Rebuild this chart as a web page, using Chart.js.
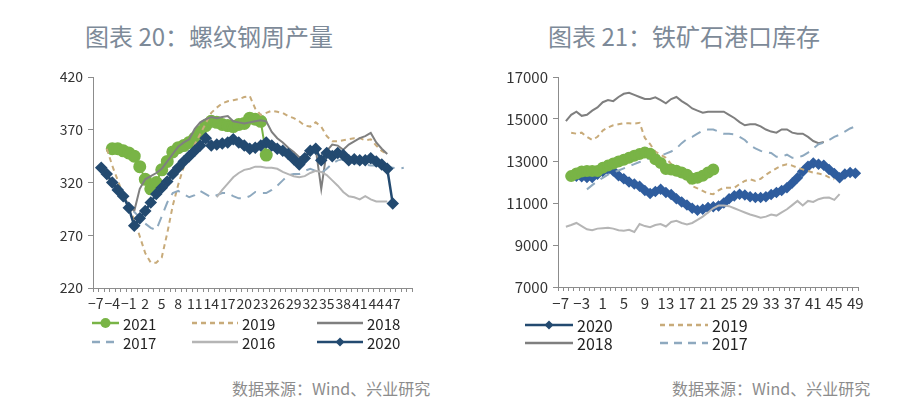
<!DOCTYPE html>
<html>
<head>
<meta charset="utf-8">
<script src="https://cdn.jsdelivr.net/npm/chart.js@4.4.1/dist/chart.umd.min.js"></script>
<style>
  body { margin: 0; width: 900px; height: 414px; background: #fff; position: relative; overflow: hidden;
         font-family: "Noto Sans CJK SC", sans-serif; }
  .title { position: absolute; top: 24px; font-size: 24px; line-height: 1; color: #7d8a98; white-space: nowrap; }
  .src { position: absolute; top: 380px; font-size: 16px; line-height: 1; color: #8c8c8c; white-space: nowrap; }
  canvas { position: absolute; }
  .item { position: absolute; display: flex; align-items: center; height: 18px; color: #222; white-space: nowrap; }
  .item svg { margin-right: 4px; }
</style>
</head>
<body>
<div class="title" style="left:85px">图表 20：螺纹钢周产量</div>
<div class="title" style="left:548px">图表 21：铁矿石港口库存</div>
<canvas id="rebar" width="385" height="260" style="left:40px;top:62px"></canvas>
<canvas id="ore" width="390" height="260" style="left:480px;top:62px"></canvas>
<div id="legendRebar"></div>
<div id="legendOre"></div>
<div class="src" style="left:232px">数据来源：Wind、兴业研究</div>
<div class="src" style="left:672px">数据来源：Wind、兴业研究</div>

<script>
// 图表 20 螺纹钢周产量 (万吨), week offset from Spring Festival
const weeksRebar = [-7,-6,-5,-4,-3,-2,-1,0,1,2,3,4,5,6,7,8,9,10,11,12,13,14,15,16,17,18,19,20,21,22,23,24,25,26,27,28,29,30,31,32,33,34,35,36,37,38,39,40,41,42,43,44,45,46,47,48,49,50];
const rebar2021 = [null,null,null,352,352,350,348,345,335,323,314,320,332,340,349,353,355,358,362,368,374,378,377,375,374,373,375,376,381,380,378,346,null,null,null,null,null,null,null,null,null,null,null,null,null,null,null,null,null,null,null,null,null,null,null,null,null,null];
const rebar2019 = [null,null,352,336,322,308,296,285,269,253,244,244,249,272,298,318,335,346,356,366,376,386,391,395,397,398,399,401,402,390,384,386,388,387,386,383,381,378,374,373,377,373,364,359,359,360,361,362,362,360,361,355,350,347,null,null,null,null];
const rebar2018 = [null,332,326,320,314,308,298,293,314,323,326,329,333,340,347,354,358,361,371,377,380,382,381,382,383,378,377,376,377,378,379,378,368,362,358,353,349,344,345,350,352,314,350,356,355,351,356,359,362,364,367,358,352,347,null,null,null,null];
const rebar2017 = [null,330,324,317,311,305,298,292,287,281,277,275,288,301,310,312,309,306,308,312,309,306,308,310,310,307,305,305,307,311,310,310,313,317,322,327,328,328,331,333,331,329,333,338,341,342,340,338,338,337,336,336,335,335,334,333,334,null];
const rebar2016 = [null,null,null,null,null,null,null,null,null,null,null,null,null,null,null,null,null,null,null,null,null,null,306,313,319,325,329,332,333,335,335,334,334,333,330,328,326,325,326,329,331,330,327,322,317,311,307,306,304,307,304,302,302,302,null,null,null,null];
const rebar2020 = [null,334,328,320,313,307,296,279,286,293,301,309,315,321,328,334,340,345,350,355,362,355,356,357,358,361,358,355,352,353,355,358,355,352,350,347,342,337,343,350,352,341,348,345,348,346,341,342,341,341,343,340,337,333,300,null,null,null];
const rebarTicks = [220, 270, 320, 370, 420];

// 图表 21 铁矿石港口库存 (万吨)
const weeksOre = [-7,-6,-5,-4,-3,-2,-1,0,1,2,3,4,5,6,7,8,9,10,11,12,13,14,15,16,17,18,19,20,21,22,23,24,25,26,27,28,29,30,31,32,33,34,35,36,37,38,39,40,41,42,43,44,45,46,47,48,49];
const ore2020 = [null,null,null,12280,12250,12210,12210,12370,12500,12600,12520,12300,12150,12000,11900,11800,11600,11450,11550,11650,11500,11400,11200,11050,10900,10750,10650,10700,10780,10820,10860,11000,11200,11340,11420,11380,11300,11260,11260,11300,11400,11500,11600,11730,11950,12200,12500,12750,12900,12850,12800,12600,12400,12200,12380,12450,12420];
const ore2019 = [null,null,14350,14300,14350,14150,14000,14150,14450,14600,14700,14750,14800,14800,14780,14820,14100,13800,13450,13300,13150,12850,12550,12300,12100,11800,11700,11580,11450,11420,11600,11730,11730,11730,11900,12050,12130,12050,12150,12350,12500,12650,12780,12840,12780,12680,12600,12520,12450,12400,12350,12220,12130,null,null,null,null];
const ore2018 = [null,14900,15200,15350,15150,15200,15400,15550,15800,15900,15850,16050,16200,16250,16150,16050,15950,15950,16030,15900,15750,15950,16050,15850,15700,15500,15400,15300,15350,15350,15350,15350,15200,15050,14850,14700,14750,14750,14650,14500,14400,14350,14500,14500,14350,14300,14300,14150,13950,13850,13900,null,null,null,null,null,null];
const ore2017 = [null,null,null,null,null,11650,11850,12050,12200,12350,12450,12550,12650,12750,12850,12950,13050,13150,13250,13250,13350,13450,13600,13850,14050,14150,14300,14450,14500,14500,14400,14300,14300,14270,14150,14000,13750,13600,13480,13420,13380,13200,13200,13300,13150,13160,13250,13400,13600,13800,13870,14000,14150,14250,14400,14550,14650];
const ore2021 = [null,null,12280,12400,12500,12520,12520,12520,12680,12780,12880,12980,13060,13150,13250,13330,13400,13350,13080,12900,12620,12600,12540,12450,12350,12150,12200,12300,12450,12600,null,null,null,null,null,null,null,null,null,null,null,null,null,null,null,null,null,null,null,null,null,null,null,null,null,null,null];
const ore2016 = [null,9870,9950,10050,9900,9750,9700,9780,9800,9820,9780,9700,9680,9720,9620,10000,9900,9850,9950,10000,9880,10100,10150,10050,9980,10050,10200,10350,10550,10750,10880,10880,10850,10750,10650,10550,10450,10380,10300,10350,10450,10400,10550,10700,10900,11100,10880,11100,11050,11180,11250,11260,11150,11420,null,null,null];
const oreTicks = [7000, 9000, 11000, 13000, 15000, 17000];

const GREEN = "#79b446", TAN = "#c8ab7a", GRAY = "#7f7f7f", BLUEGRAY = "#8ea9bf", LIGHT = "#b5b5b5";
const NAVY = "#234a70", BLUE = "#2f5d9e";

Chart.defaults.font.family = "'Noto Sans CJK SC', sans-serif";
Chart.defaults.color = "#333";

const minus = (v) => String(v).replace("-", "\u2212");

function line(label, data, color, opts) {
  return Object.assign({
    label, data, borderColor: color, backgroundColor: color,
    borderWidth: 2, pointRadius: 0, tension: 0, spanGaps: false,
  }, opts || {});
}

function axes(labels, every, lastShown, yMin, yMax, yStep, yWidth, xHeight, fontSize) {
  return {
    x: {
      type: "category", offset: true,
      grid: { display: true, offset: true, drawOnChartArea: false, drawTicks: true, tickLength: 4, color: "#8c8c8c" },
      border: { color: "#8c8c8c" },
      ticks: {
        autoSkip: false, maxRotation: 0, padding: 3, font: { size: fontSize }, color: "#333",
        callback: (v, i) => (i % every === 0 && labels[i] <= lastShown) ? minus(labels[i]) : "",
      },
      afterFit: (s) => { s.height = xHeight; },
    },
    y: {
      min: yMin, max: yMax,
      grid: { display: true, drawOnChartArea: false, drawTicks: true, tickLength: 5, color: "#8c8c8c" },
      border: { color: "#8c8c8c" },
      ticks: { stepSize: yStep, padding: 5, font: { size: fontSize }, color: "#333", callback: (v) => String(v) },
      afterFit: (s) => { s.width = yWidth; },
    },
  };
}

new Chart(document.getElementById("rebar"), {
  type: "line",
  data: {
    labels: weeksRebar,
    datasets: [
      line("2021", rebar2021, GREEN, { pointRadius: 5.5, pointStyle: "circle", order: 5 }),
      line("2019", rebar2019, TAN, { borderDash: [5, 4], order: 4 }),
      line("2018", rebar2018, GRAY, { order: 3 }),
      line("2017", rebar2017, BLUEGRAY, { borderDash: [10, 7], order: 2 }),
      line("2016", rebar2016, LIGHT, { order: 1 }),
      line("2020", rebar2020, NAVY, { borderWidth: 2.5, pointRadius: 4.5, pointStyle: "rectRot", order: 0 }),
    ],
  },
  options: {
    responsive: false, animation: false, devicePixelRatio: 1,
    layout: { padding: { top: 15, right: 13, left: 0, bottom: 0 } },
    plugins: { legend: { display: false }, tooltip: { enabled: false } },
    scales: axes(weeksRebar, 3, 47, rebarTicks[0], rebarTicks[rebarTicks.length - 1], 50, 53, 34, 14),
  },
});

new Chart(document.getElementById("ore"), {
  type: "line",
  data: {
    labels: weeksOre,
    datasets: [
      line("2020", ore2020, BLUE, { borderWidth: 2.5, pointRadius: 4, pointStyle: "rectRot", order: 5 }),
      line("2019", ore2019, TAN, { borderDash: [5, 4], order: 4 }),
      line("2018", ore2018, GRAY, { order: 3 }),
      line("2017", ore2017, BLUEGRAY, { borderDash: [10, 7], order: 2 }),
      line("2016", ore2016, LIGHT, { order: 1 }),
      line("2021", ore2021, GREEN, { pointRadius: 5, pointStyle: "circle", order: 0 }),
    ],
  },
  options: {
    responsive: false, animation: false, devicePixelRatio: 1,
    layout: { padding: { top: 15, right: 12, left: 0, bottom: 0 } },
    plugins: { legend: { display: false }, tooltip: { enabled: false } },
    scales: axes(weeksOre, 4, 49, oreTicks[0], oreTicks[oreTicks.length - 1], 2000, 78, 35, 15),
  },
});

// legends laid out like the source (Excel) legends
function sample(width, color, dash, marker) {
  const mid = width / 2;
  let m = "";
  if (marker === "circle") m = `<circle cx="${mid}" cy="7" r="5" fill="${color}"/>`;
  if (marker === "diamond") m = `<path d="M${mid} 2.5 L${mid + 4.5} 7 L${mid} 11.5 L${mid - 4.5} 7Z" fill="${color}"/>`;
  return `<svg width="${width}" height="14"><line x1="0" y1="7" x2="${width}" y2="7" stroke="${color}" stroke-width="2.5"` +
    (dash ? ` stroke-dasharray="${dash}"` : "") + `/>${m}</svg>`;
}
function addItem(host, left, top, width, color, dash, marker, text, size) {
  const d = document.createElement("div");
  d.className = "item";
  d.style.left = left + "px";
  d.style.top = top + "px";
  d.style.fontSize = size + "px";
  d.innerHTML = sample(width, color, dash, marker) + `<span>${text}</span>`;
  host.appendChild(d);
}
const lr = document.getElementById("legendRebar");
addItem(lr, 92, 314, 27, GREEN, "", "circle", "2021", 15);
addItem(lr, 192, 314, 46, TAN, "5,4", "", "2019", 15);
addItem(lr, 317, 314, 46, GRAY, "", "", "2018", 15);
addItem(lr, 92, 333, 27, BLUEGRAY, "8,6", "", "2017", 15);
addItem(lr, 192, 333, 46, LIGHT, "", "", "2016", 15);
addItem(lr, 317, 333, 46, NAVY, "", "diamond", "2020", 15);
const lo = document.getElementById("legendOre");
addItem(lo, 525, 316, 48, NAVY, "", "diamond", "2020", 16);
addItem(lo, 660, 316, 48, TAN, "5,4", "", "2019", 16);
addItem(lo, 525, 334, 48, GRAY, "", "", "2018", 16);
addItem(lo, 660, 334, 48, BLUEGRAY, "8,6", "", "2017", 16);
</script>
</body>
</html>
